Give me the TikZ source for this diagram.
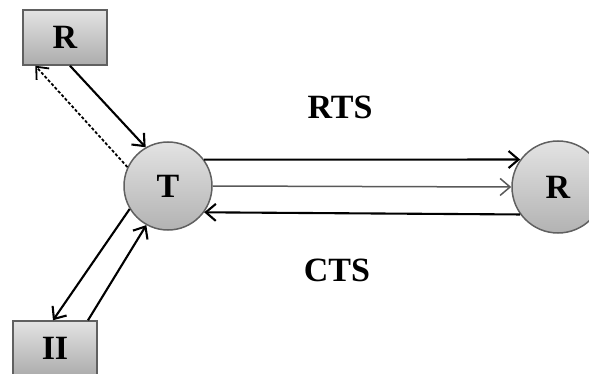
\documentclass[tikz,border=0pt]{standalone}
\usepackage{fontspec}
\setmainfont{Liberation Serif}
\usepackage{tikz}
\usetikzlibrary{arrows.meta,shapes}

\begin{document}
\begin{tikzpicture}[x=1pt,y=-1pt,>={Straight Barb[length=10pt,width=17pt]},
  lbl/.style={font=\fontsize{34}{36}\selectfont\bfseries},
  station/.style={lbl,draw=gray!75!black,line width=1.5pt,top color=gray!22,bottom color=gray!65,
    minimum width=84pt,minimum height=55pt,inner sep=0pt},
  ball/.style={lbl,circle,draw=gray!75!black,line width=1.5pt,top color=gray!22,bottom color=gray!60,
    minimum size=#1,inner sep=0pt},
  link/.style={->,line width=2.1pt}]
\useasboundingbox (0,0) rectangle (589,374);
\clip (0,0) rectangle (589,374);
\node[station](hidR) at (65,37.5){R};
\node[station](hidII) at (55,348.5){II};
\node[ball=88pt](T) at (168,186){T};
\node[ball=92pt](Rx) at (558,187){R};
\node[lbl](rts) at (340,107){RTS};
\node[lbl](cts) at (337,270){CTS};
% RTS / CTS exchange
\draw[link](T.36)--(Rx.144);
\draw[link,gray!70!black,line width=1.5pt](T.east)--(Rx.west);
\draw[link](Rx.216)--(T.324);
% hidden stations
\draw[link]([xshift=5pt]hidR.south)--(T.120);
\draw[link,dash pattern=on 3pt off 2pt,line width=1.8pt](T.155)--([xshift=13pt]hidR.south west);
\draw[link](T.211)--([xshift=-2pt]hidII.north);
\draw[link]([xshift=33pt]hidII.north)--(T.241);
\end{tikzpicture}
\end{document}
